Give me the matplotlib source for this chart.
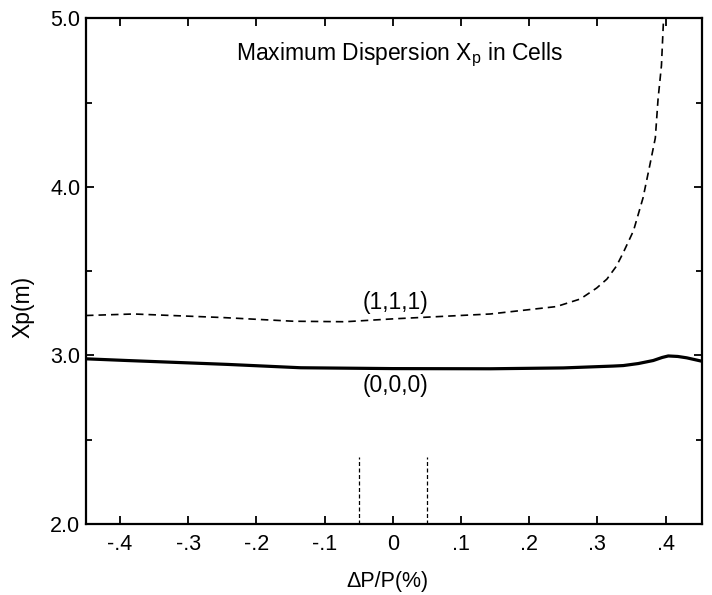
import matplotlib.pyplot as plt

plt.rcParams['font.family'] = ['Liberation Sans', 'DejaVu Sans']

# -------------------------------------------------------------#
#   data
# -------------------------------------------------------------#
dp_000 = [-0.45, -0.39, -0.243, -0.135, 0.0, 0.143, 0.25, 0.323, 0.338, 0.36,
          0.382, 0.395, 0.404, 0.418, 0.431, 0.453]
xp_000 = [2.98, 2.97, 2.947, 2.927, 2.922, 2.921, 2.926, 2.937, 2.94, 2.952,
          2.97, 2.988, 2.997, 2.994, 2.986, 2.966]

dp_111 = [-0.45, -0.38, -0.25, -0.146, -0.07, 0.0, 0.143, 0.24, 0.275, 0.299,
          0.314, 0.328, 0.338, 0.353, 0.367, 0.377, 0.385, 0.389, 0.394, 0.397, 0.398]
xp_111 = [3.237, 3.246, 3.225, 3.203, 3.2, 3.217, 3.246, 3.29, 3.335, 3.40,
          3.453, 3.53, 3.61, 3.74, 3.935, 4.13, 4.29, 4.52, 4.72, 4.99, 5.05]

cell_edges = [-0.05, 0.05]
cell_top = 2.4

xticks = [-0.4, -0.3, -0.2, -0.1, 0.0, 0.1, 0.2, 0.3, 0.4]
xtick_labels = ['-.4', '-.3', '-.2', '-.1', '0', '.1', '.2', '.3', '.4']
yticks = [2.0, 3.0, 4.0, 5.0]
yticks_minor = [2.5, 3.5, 4.5]
ytick_labels = ['2.0', '3.0', '4.0', '5.0']

# -------------------------------------------------------------#
#   canvas
# -------------------------------------------------------------#
fig = plt.figure(figsize=(7.12, 5.95), dpi=100)
ax = fig.add_subplot(111)
fig.subplots_adjust(left=0.1208, right=0.9855, top=0.9692, bottom=0.1193)

ax.plot(dp_000, xp_000, color='black', lw=2.3, solid_capstyle='butt')
ax.plot(dp_111, xp_111, color='black', lw=1.2, dashes=(4.5, 3))
for xe in cell_edges:
    ax.plot([xe, xe], [2.0, cell_top], color='black', lw=0.9, dashes=(3.2, 2))

ax.text(0.004, 3.316, '(1,1,1)', ha='center', va='center', fontsize=16.5)
ax.text(0.004, 2.82, '(0,0,0)', ha='center', va='center', fontsize=16.5)
ax.text(0.01, 4.785, r'Maximum Dispersion X$_\mathregular{p}$ in Cells',
        ha='center', va='center', fontsize=16.5)

ax.set_xlim(-0.45, 0.453)
ax.set_ylim(2.0, 5.0)
ax.set_xticks(xticks)
ax.set_xticklabels(xtick_labels)
ax.set_yticks(yticks)
ax.set_yticklabels(ytick_labels)
ax.set_yticks(yticks_minor, minor=True)

ax.tick_params(which='both', direction='in', top=True, right=True,
               labelsize=15.5, width=1.3)
ax.tick_params(which='major', length=6)
ax.tick_params(which='minor', length=4)
ax.tick_params(axis='x', pad=7)
ax.tick_params(axis='y', pad=4)
for s in ax.spines.values():
    s.set_linewidth(1.6)

ax.set_xlabel('ΔP/P(%)', fontsize=15.5)
ax.set_ylabel('Xp(m)', fontsize=16.5)
ax.xaxis.set_label_coords(0.489, -0.093)
ax.yaxis.set_label_coords(-0.083, 0.429)

plt.savefig('out.png', dpi=100)
